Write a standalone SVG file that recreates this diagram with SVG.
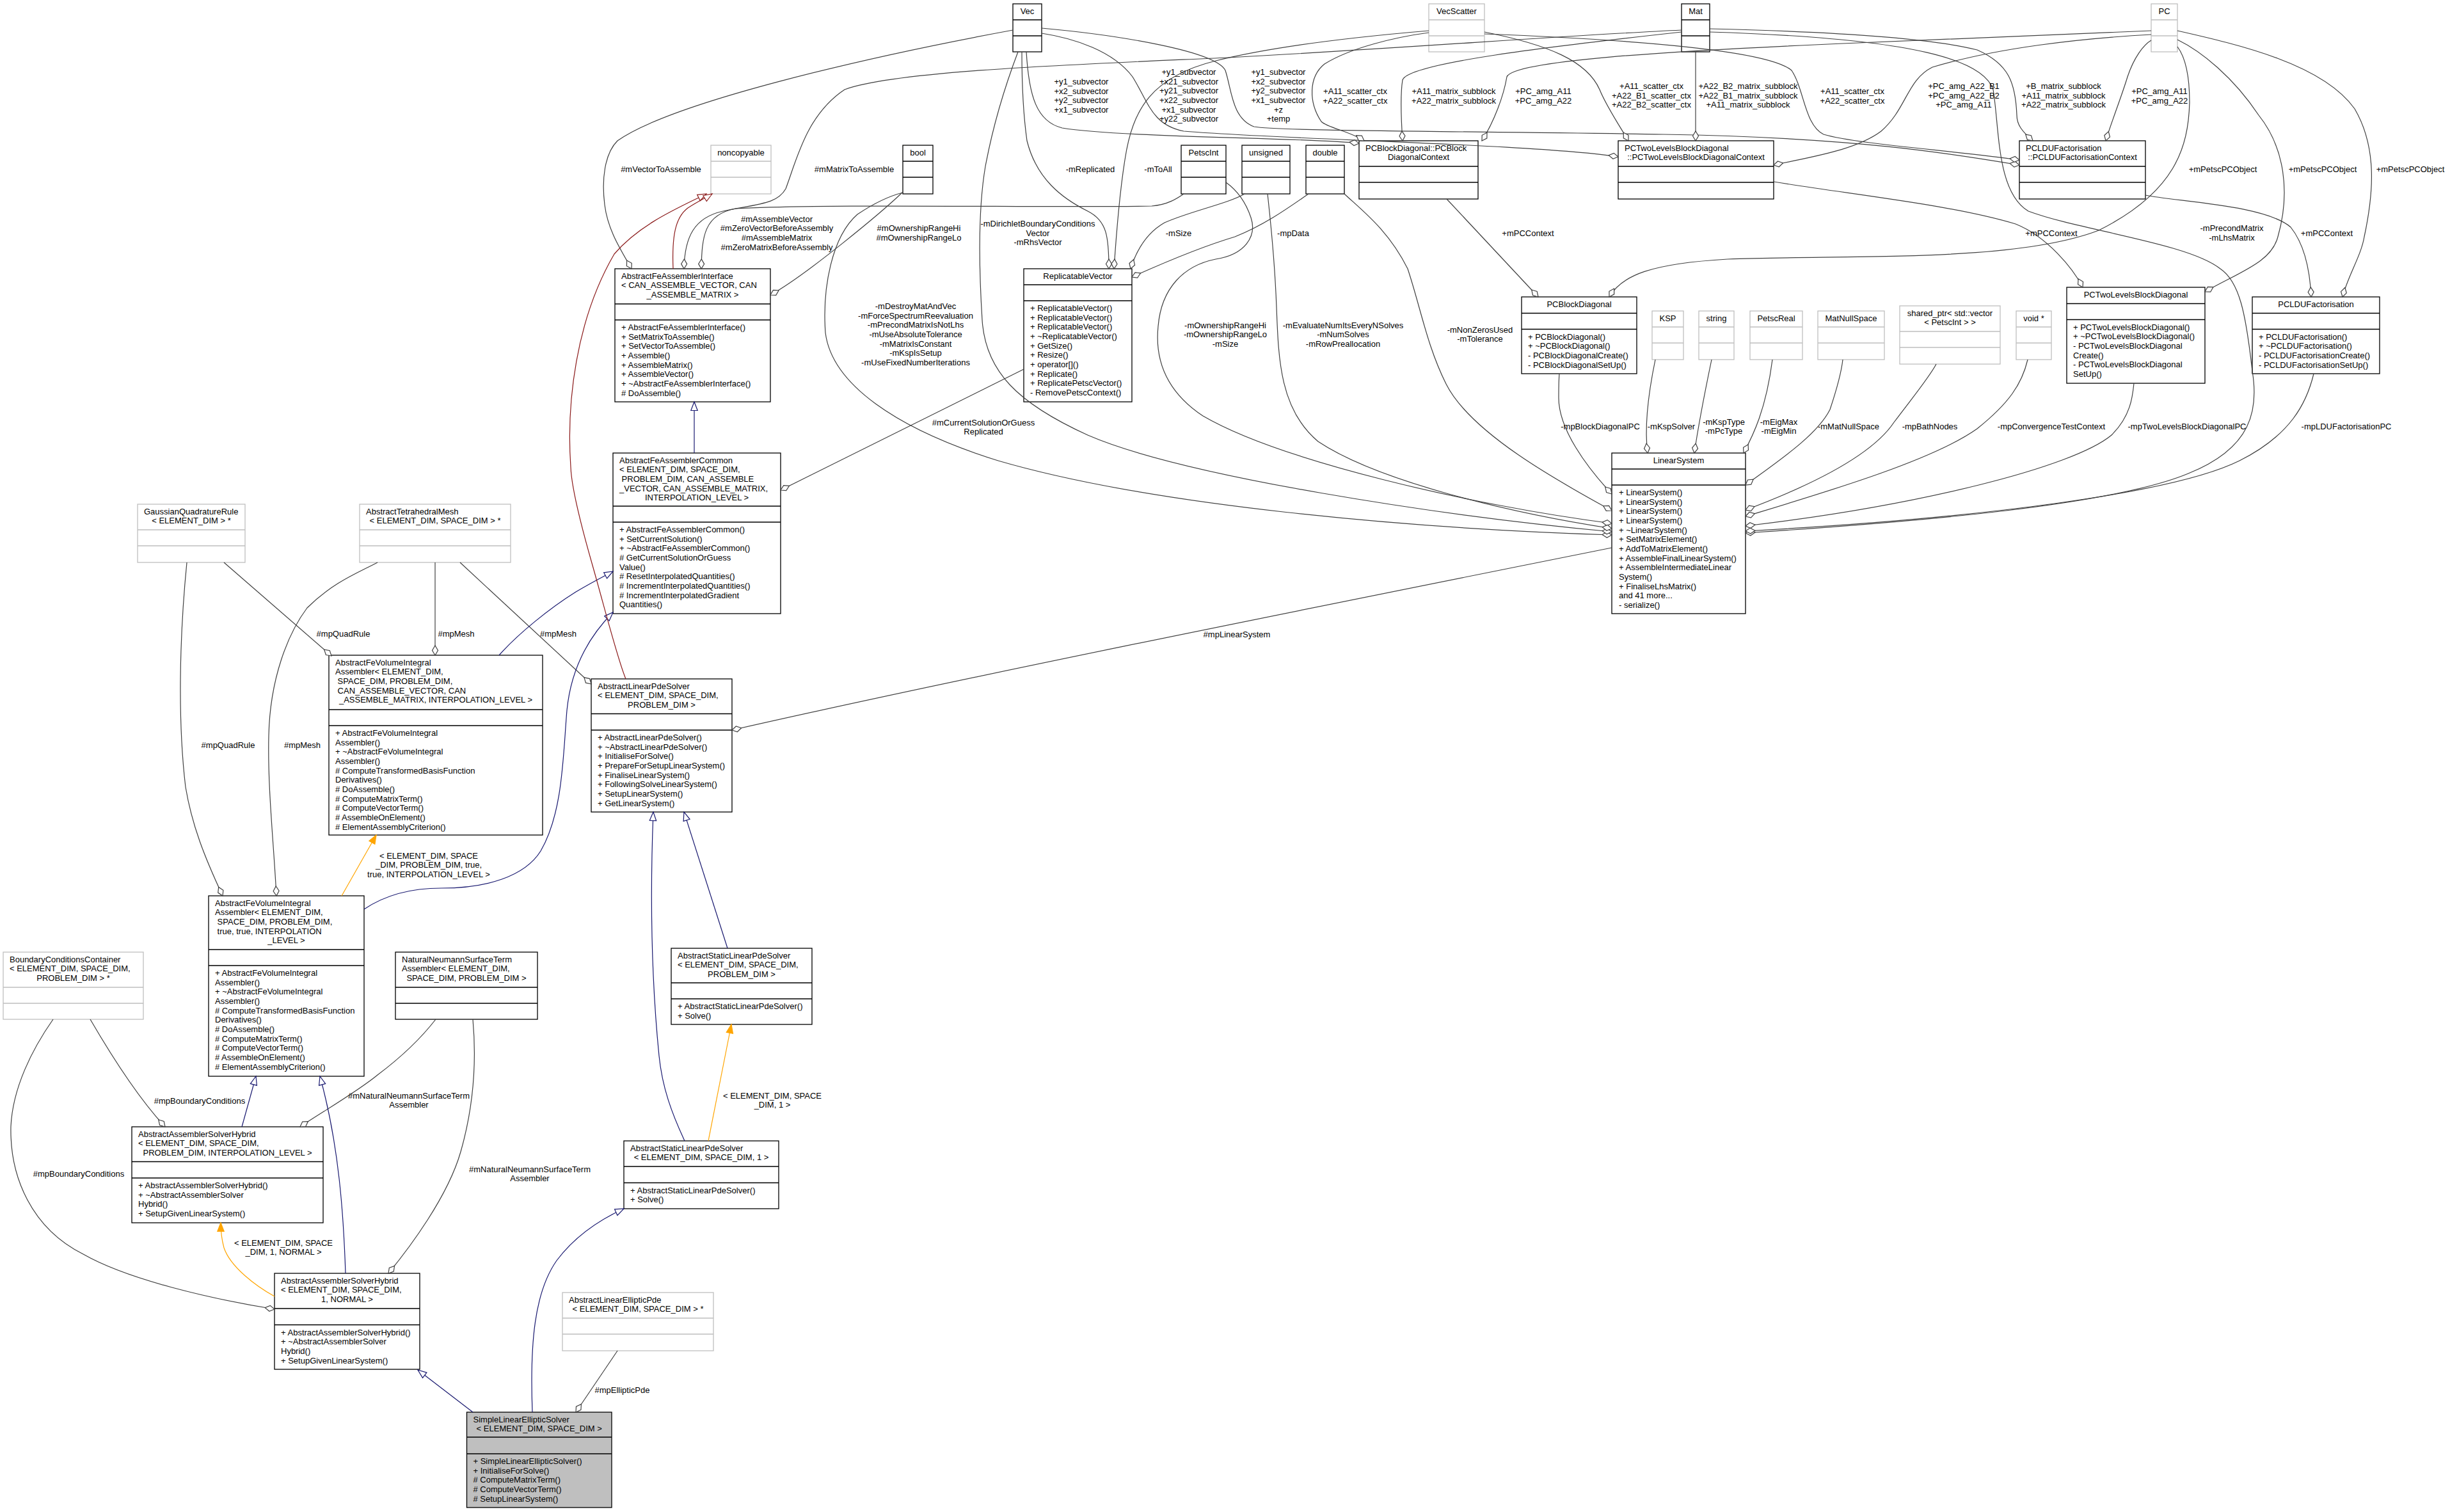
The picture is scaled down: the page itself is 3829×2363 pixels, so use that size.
<svg xmlns="http://www.w3.org/2000/svg" width="3829" height="2363" viewBox="0 0 3829 2363">
<style>
text{font-family:"Liberation Sans",Arial,Helvetica,sans-serif;font-size:13px;fill:#000}
.c{text-anchor:middle}
.b{fill:#fff;stroke:#000;stroke-width:1.3}
.g{fill:#fff;stroke:#bfbfbf;stroke-width:1.3}
.s{fill:#bfbfbf;stroke:#000;stroke-width:1.3}
.lb{fill:none;stroke:#000;stroke-width:1.3}
.lg{fill:none;stroke:#bfbfbf;stroke-width:1.3}
.e{fill:none;stroke:#404040;stroke-width:1.2;marker-start:url(#dia)}
.i{fill:none;stroke:#191970;stroke-width:1.2;marker-end:url(#inh)}
.r{fill:none;stroke:#8b1a1a;stroke-width:1.2;marker-end:url(#inhr)}
.o{fill:none;stroke:#ffa500;stroke-width:1.2;marker-end:url(#tpl)}
</style>
<defs>
<marker id="dia" viewBox="-2 -6 20 12" refX="0" refY="0" markerWidth="20" markerHeight="12" orient="auto" markerUnits="userSpaceOnUse"><path d="M0,0 L7.5,-4.5 L15,0 L7.5,4.5 Z" fill="#fff" stroke="#404040" stroke-width="1.2"/></marker>
<marker id="inh" viewBox="-2 -7 18 14" refX="13.5" refY="0" markerWidth="18" markerHeight="14" orient="auto" markerUnits="userSpaceOnUse"><path d="M0,-5.2 L13.5,0 L0,5.2 Z" fill="#fff" stroke="#191970" stroke-width="1.2"/></marker>
<marker id="inhr" viewBox="-2 -7 18 14" refX="13.5" refY="0" markerWidth="18" markerHeight="14" orient="auto" markerUnits="userSpaceOnUse"><path d="M0,-5.2 L13.5,0 L0,5.2 Z" fill="#fff" stroke="#8b1a1a" stroke-width="1.2"/></marker>
<marker id="tpl" viewBox="-2 -7 18 14" refX="13.5" refY="0" markerWidth="18" markerHeight="14" orient="auto" markerUnits="userSpaceOnUse"><path d="M0,-5.2 L13.5,0 L0,5.2 Z" fill="#ffa500" stroke="#ffa500" stroke-width="1.2"/></marker>
</defs>
<rect x="0" y="0" width="3829" height="2363" fill="#fff"/>

<g id="nodes">
<g id="n-Vec"><rect class="b" x="1583" y="6" width="45" height="75"/><path class="lb" d="M1583 31H1628M1583 56H1628"/><text class="c" x="1605.5" y="22">Vec</text></g>
<g id="n-VecScatter"><rect class="g" x="2233" y="6" width="87" height="75"/><path class="lg" d="M2233 31H2320M2233 56H2320"/><text class="c" x="2276.5" y="22">VecScatter</text></g>
<g id="n-Mat"><rect class="b" x="2628" y="6" width="44" height="75"/><path class="lb" d="M2628 31H2672M2628 56H2672"/><text class="c" x="2650" y="22">Mat</text></g>
<g id="n-PC"><rect class="g" x="3362" y="6" width="41" height="75"/><path class="lg" d="M3362 31H3403M3362 56H3403"/><text class="c" x="3382.5" y="22">PC</text></g>
<g id="n-noncopyable"><rect class="g" x="1111" y="227" width="94" height="76"/><path class="lg" d="M1111 252H1205M1111 277H1205"/><text class="c" x="1158" y="243">noncopyable</text></g>
<g id="n-bool"><rect class="b" x="1411" y="227" width="47" height="76"/><path class="lb" d="M1411 252H1458M1411 277H1458"/><text class="c" x="1434.5" y="243">bool</text></g>
<g id="n-PetscInt"><rect class="b" x="1846" y="227" width="70" height="76"/><path class="lb" d="M1846 252H1916M1846 277H1916"/><text class="c" x="1881" y="243">PetscInt</text></g>
<g id="n-unsigned"><rect class="b" x="1941" y="227" width="75" height="76"/><path class="lb" d="M1941 252H2016M1941 277H2016"/><text class="c" x="1978.5" y="243">unsigned</text></g>
<g id="n-double"><rect class="b" x="2041" y="227" width="60" height="76"/><path class="lb" d="M2041 252H2101M2041 277H2101"/><text class="c" x="2071" y="243">double</text></g>
<g id="n-PCBDContext"><rect class="b" x="2124" y="220" width="186" height="91"/><path class="lb" d="M2124 260H2310M2124 285H2310"/><text x="2134" y="235.5">PCBlockDiagonal::PCBlock</text><text class="c" x="2217" y="250">DiagonalContext</text></g>
<g id="n-PCTLContext"><rect class="b" x="2529" y="220" width="243" height="91"/><path class="lb" d="M2529 260H2772M2529 285H2772"/><text x="2539" y="235.5">PCTwoLevelsBlockDiagonal</text><text class="c" x="2650.5" y="250">::PCTwoLevelsBlockDiagonalContext</text></g>
<g id="n-PCLDUContext"><rect class="b" x="3156" y="220" width="197" height="91"/><path class="lb" d="M3156 260H3353M3156 285H3353"/><text x="3166" y="235.5">PCLDUFactorisation</text><text class="c" x="3254.5" y="250">::PCLDUFactorisationContext</text></g>

<g id="n-AFAI"><rect class="b" x="961" y="420" width="243" height="208"/><path class="lb" d="M961 475H1204M961 500H1204"/>
<text x="971" y="435.5">AbstractFeAssemblerInterface<tspan x="971" dy="14.67">&lt; CAN_ASSEMBLE_VECTOR, CAN</tspan></text><text class="c" x="1082.5" y="465">_ASSEMBLE_MATRIX &gt;</text>
<text x="971" y="516">+ AbstractFeAssemblerInterface()<tspan x="971" dy="14.67">+ SetMatrixToAssemble()</tspan><tspan x="971" dy="14.67">+ SetVectorToAssemble()</tspan><tspan x="971" dy="14.67">+ Assemble()</tspan><tspan x="971" dy="14.67">+ AssembleMatrix()</tspan><tspan x="971" dy="14.67">+ AssembleVector()</tspan><tspan x="971" dy="14.67">+ ~AbstractFeAssemblerInterface()</tspan><tspan x="971" dy="14.67"># DoAssemble()</tspan></text></g>

<g id="n-RV"><rect class="b" x="1600" y="420" width="169" height="208"/><path class="lb" d="M1600 445H1769M1600 470H1769"/><text class="c" x="1684.5" y="435.5">ReplicatableVector</text>
<text x="1610" y="486">+ ReplicatableVector()<tspan x="1610" dy="14.67">+ ReplicatableVector()</tspan><tspan x="1610" dy="14.67">+ ReplicatableVector()</tspan><tspan x="1610" dy="14.67">+ ~ReplicatableVector()</tspan><tspan x="1610" dy="14.67">+ GetSize()</tspan><tspan x="1610" dy="14.67">+ Resize()</tspan><tspan x="1610" dy="14.67">+ operator[]()</tspan><tspan x="1610" dy="14.67">+ Replicate()</tspan><tspan x="1610" dy="14.67">+ ReplicatePetscVector()</tspan><tspan x="1610" dy="14.67">- RemovePetscContext()</tspan></text></g>

<g id="n-PCBlockDiagonal"><rect class="b" x="2378" y="464" width="180" height="120"/><path class="lb" d="M2378 489.5H2558M2378 514.5H2558"/><text class="c" x="2468" y="479.5">PCBlockDiagonal</text>
<text x="2388" y="530.5">+ PCBlockDiagonal()<tspan x="2388" dy="14.67">+ ~PCBlockDiagonal()</tspan><tspan x="2388" dy="14.67">- PCBlockDiagonalCreate()</tspan><tspan x="2388" dy="14.67">- PCBlockDiagonalSetUp()</tspan></text></g>

<g id="n-KSP"><rect class="g" x="2582" y="486" width="49" height="76"/><path class="lg" d="M2582 511H2631M2582 536H2631"/><text class="c" x="2606.5" y="502">KSP</text></g>
<g id="n-string"><rect class="g" x="2655" y="486" width="55" height="76"/><path class="lg" d="M2655 511H2710M2655 536H2710"/><text class="c" x="2682.5" y="502">string</text></g>
<g id="n-PetscReal"><rect class="g" x="2735" y="486" width="82" height="76"/><path class="lg" d="M2735 511H2817M2735 536H2817"/><text class="c" x="2776" y="502">PetscReal</text></g>
<g id="n-MatNullSpace"><rect class="g" x="2841" y="486" width="104" height="76"/><path class="lg" d="M2841 511H2945M2841 536H2945"/><text class="c" x="2893" y="502">MatNullSpace</text></g>
<g id="n-sharedptr"><rect class="g" x="2969" y="478" width="157" height="91"/><path class="lg" d="M2969 518H3126M2969 543H3126"/><text class="c" x="3047.5" y="493.5">shared_ptr&lt; std::vector</text><text class="c" x="3047.5" y="508">&lt; PetscInt &gt; &gt;</text></g>
<g id="n-void"><rect class="g" x="3151" y="486" width="55" height="76"/><path class="lg" d="M3151 511H3206M3151 536H3206"/><text class="c" x="3178.5" y="502">void *</text></g>

<g id="n-PCTLBD"><rect class="b" x="3230" y="449" width="216" height="150"/><path class="lb" d="M3230 474.5H3446M3230 499.5H3446"/><text class="c" x="3338" y="464.5">PCTwoLevelsBlockDiagonal</text>
<text x="3240" y="515.5">+ PCTwoLevelsBlockDiagonal()<tspan x="3240" dy="14.67">+ ~PCTwoLevelsBlockDiagonal()</tspan><tspan x="3240" dy="14.67">- PCTwoLevelsBlockDiagonal</tspan><tspan x="3240" dy="14.67">Create()</tspan><tspan x="3240" dy="14.67">- PCTwoLevelsBlockDiagonal</tspan><tspan x="3240" dy="14.67">SetUp()</tspan></text></g>

<g id="n-PCLDU"><rect class="b" x="3520" y="464" width="199" height="120"/><path class="lb" d="M3520 489.5H3719M3520 514.5H3719"/><text class="c" x="3619.5" y="479.5">PCLDUFactorisation</text>
<text x="3530" y="530.5">+ PCLDUFactorisation()<tspan x="3530" dy="14.67">+ ~PCLDUFactorisation()</tspan><tspan x="3530" dy="14.67">- PCLDUFactorisationCreate()</tspan><tspan x="3530" dy="14.67">- PCLDUFactorisationSetUp()</tspan></text></g>

<g id="n-LinearSystem"><rect class="b" x="2519" y="708" width="209" height="251"/><path class="lb" d="M2519 733H2728M2519 758H2728"/><text class="c" x="2623.5" y="723.5">LinearSystem</text>
<text x="2530" y="774">+ LinearSystem()<tspan x="2530" dy="14.67">+ LinearSystem()</tspan><tspan x="2530" dy="14.67">+ LinearSystem()</tspan><tspan x="2530" dy="14.67">+ LinearSystem()</tspan><tspan x="2530" dy="14.67">+ ~LinearSystem()</tspan><tspan x="2530" dy="14.67">+ SetMatrixElement()</tspan><tspan x="2530" dy="14.67">+ AddToMatrixElement()</tspan><tspan x="2530" dy="14.67">+ AssembleFinalLinearSystem()</tspan><tspan x="2530" dy="14.67">+ AssembleIntermediateLinear</tspan><tspan x="2530" dy="14.67">System()</tspan><tspan x="2530" dy="14.67">+ FinaliseLhsMatrix()</tspan><tspan x="2530" dy="14.67">and 41 more...</tspan><tspan x="2530" dy="14.67">- serialize()</tspan></text></g>

<g id="n-AFACommon"><rect class="b" x="958" y="708" width="262" height="251"/><path class="lb" d="M958 791H1220M958 816H1220"/>
<text x="968" y="723.5">AbstractFeAssemblerCommon<tspan x="968" dy="14.67">&lt; ELEMENT_DIM, SPACE_DIM,</tspan><tspan x="968" dy="14.67"> PROBLEM_DIM, CAN_ASSEMBLE</tspan><tspan x="968" dy="14.67">_VECTOR, CAN_ASSEMBLE_MATRIX,</tspan></text><text class="c" x="1089" y="782">INTERPOLATION_LEVEL &gt;</text>
<text x="968" y="832">+ AbstractFeAssemblerCommon()<tspan x="968" dy="14.67">+ SetCurrentSolution()</tspan><tspan x="968" dy="14.67">+ ~AbstractFeAssemblerCommon()</tspan><tspan x="968" dy="14.67"># GetCurrentSolutionOrGuess</tspan><tspan x="968" dy="14.67">Value()</tspan><tspan x="968" dy="14.67"># ResetInterpolatedQuantities()</tspan><tspan x="968" dy="14.67"># IncrementInterpolatedQuantities()</tspan><tspan x="968" dy="14.67"># IncrementInterpolatedGradient</tspan><tspan x="968" dy="14.67">Quantities()</tspan></text></g>

<g id="n-GQR"><rect class="g" x="215" y="788" width="168" height="91"/><path class="lg" d="M215 828H383M215 853H383"/><text x="225" y="803.5">GaussianQuadratureRule</text><text class="c" x="299" y="818">&lt; ELEMENT_DIM &gt; *</text></g>
<g id="n-Mesh"><rect class="g" x="562" y="788" width="236" height="91"/><path class="lg" d="M562 828H798M562 853H798"/><text x="572" y="803.5">AbstractTetrahedralMesh</text><text class="c" x="680" y="818">&lt; ELEMENT_DIM, SPACE_DIM &gt; *</text></g>

<g id="n-AFVIA"><rect class="b" x="514" y="1024" width="334" height="281"/><path class="lb" d="M514 1109H848M514 1134H848"/>
<text x="524" y="1039.5">AbstractFeVolumeIntegral<tspan x="524" dy="14.67">Assembler&lt; ELEMENT_DIM,</tspan><tspan x="524" dy="14.67"> SPACE_DIM, PROBLEM_DIM,</tspan><tspan x="524" dy="14.67"> CAN_ASSEMBLE_VECTOR, CAN</tspan></text><text class="c" x="681" y="1098.2">_ASSEMBLE_MATRIX, INTERPOLATION_LEVEL &gt;</text>
<text x="524" y="1150">+ AbstractFeVolumeIntegral<tspan x="524" dy="14.67">Assembler()</tspan><tspan x="524" dy="14.67">+ ~AbstractFeVolumeIntegral</tspan><tspan x="524" dy="14.67">Assembler()</tspan><tspan x="524" dy="14.67"># ComputeTransformedBasisFunction</tspan><tspan x="524" dy="14.67">Derivatives()</tspan><tspan x="524" dy="14.67"># DoAssemble()</tspan><tspan x="524" dy="14.67"># ComputeMatrixTerm()</tspan><tspan x="524" dy="14.67"># ComputeVectorTerm()</tspan><tspan x="524" dy="14.67"># AssembleOnElement()</tspan><tspan x="524" dy="14.67"># ElementAssemblyCriterion()</tspan></text></g>

<g id="n-ALPS"><rect class="b" x="924" y="1061" width="220" height="208"/><path class="lb" d="M924 1115.5H1144M924 1141H1144"/>
<text x="934" y="1076.5">AbstractLinearPdeSolver<tspan x="934" dy="14.67">&lt; ELEMENT_DIM, SPACE_DIM,</tspan></text><text class="c" x="1034" y="1106">PROBLEM_DIM &gt;</text>
<text x="934" y="1157">+ AbstractLinearPdeSolver()<tspan x="934" dy="14.67">+ ~AbstractLinearPdeSolver()</tspan><tspan x="934" dy="14.67">+ InitialiseForSolve()</tspan><tspan x="934" dy="14.67">+ PrepareForSetupLinearSystem()</tspan><tspan x="934" dy="14.67">+ FinaliseLinearSystem()</tspan><tspan x="934" dy="14.67">+ FollowingSolveLinearSystem()</tspan><tspan x="934" dy="14.67">+ SetupLinearSystem()</tspan><tspan x="934" dy="14.67">+ GetLinearSystem()</tspan></text></g>

<g id="n-AFVIAtt"><rect class="b" x="326" y="1400" width="243" height="282"/><path class="lb" d="M326 1484H569M326 1509H569"/>
<text x="336" y="1415.5">AbstractFeVolumeIntegral<tspan x="336" dy="14.67">Assembler&lt; ELEMENT_DIM,</tspan><tspan x="336" dy="14.67"> SPACE_DIM, PROBLEM_DIM,</tspan><tspan x="336" dy="14.67"> true, true, INTERPOLATION</tspan></text><text class="c" x="447.5" y="1474.2">_LEVEL &gt;</text>
<text x="336" y="1525">+ AbstractFeVolumeIntegral<tspan x="336" dy="14.67">Assembler()</tspan><tspan x="336" dy="14.67">+ ~AbstractFeVolumeIntegral</tspan><tspan x="336" dy="14.67">Assembler()</tspan><tspan x="336" dy="14.67"># ComputeTransformedBasisFunction</tspan><tspan x="336" dy="14.67">Derivatives()</tspan><tspan x="336" dy="14.67"># DoAssemble()</tspan><tspan x="336" dy="14.67"># ComputeMatrixTerm()</tspan><tspan x="336" dy="14.67"># ComputeVectorTerm()</tspan><tspan x="336" dy="14.67"># AssembleOnElement()</tspan><tspan x="336" dy="14.67"># ElementAssemblyCriterion()</tspan></text></g>

<g id="n-ASLPSP"><rect class="b" x="1049" y="1482" width="220" height="119"/><path class="lb" d="M1049 1536H1269M1049 1561H1269"/>
<text x="1059" y="1497.5">AbstractStaticLinearPdeSolver<tspan x="1059" dy="14.67">&lt; ELEMENT_DIM, SPACE_DIM,</tspan></text><text class="c" x="1159" y="1527">PROBLEM_DIM &gt;</text>
<text x="1059" y="1577">+ AbstractStaticLinearPdeSolver()<tspan x="1059" dy="14.67">+ Solve()</tspan></text></g>

<g id="n-BCC"><rect class="g" x="5" y="1488" width="219" height="105"/><path class="lg" d="M5 1543H224M5 1568H224"/>
<text x="15" y="1503.5">BoundaryConditionsContainer<tspan x="15" dy="14.67">&lt; ELEMENT_DIM, SPACE_DIM,</tspan></text><text class="c" x="114.5" y="1533">PROBLEM_DIM &gt; *</text></g>

<g id="n-NN"><rect class="b" x="618" y="1488" width="222" height="105"/><path class="lb" d="M618 1543H840M618 1568H840"/>
<text x="628" y="1503.5">NaturalNeumannSurfaceTerm<tspan x="628" dy="14.67">Assembler&lt; ELEMENT_DIM,</tspan></text><text class="c" x="729" y="1533"> SPACE_DIM, PROBLEM_DIM &gt;</text></g>

<g id="n-HybridI"><rect class="b" x="206" y="1761" width="299" height="150"/><path class="lb" d="M206 1815.5H505M206 1841H505"/>
<text x="216" y="1776.5">AbstractAssemblerSolverHybrid<tspan x="216" dy="14.67">&lt; ELEMENT_DIM, SPACE_DIM,</tspan></text><text class="c" x="355.5" y="1806"> PROBLEM_DIM, INTERPOLATION_LEVEL &gt;</text>
<text x="216" y="1857">+ AbstractAssemblerSolverHybrid()<tspan x="216" dy="14.67">+ ~AbstractAssemblerSolver</tspan><tspan x="216" dy="14.67">Hybrid()</tspan><tspan x="216" dy="14.67">+ SetupGivenLinearSystem()</tspan></text></g>

<g id="n-ASLPS1"><rect class="b" x="975" y="1783" width="242" height="106"/><path class="lb" d="M975 1823H1217M975 1848.5H1217"/>
<text x="985" y="1798.5">AbstractStaticLinearPdeSolver</text><text class="c" x="1096" y="1813">&lt; ELEMENT_DIM, SPACE_DIM, 1 &gt;</text>
<text x="985" y="1864.5">+ AbstractStaticLinearPdeSolver()<tspan x="985" dy="14.67">+ Solve()</tspan></text></g>

<g id="n-Hybrid1"><rect class="b" x="429" y="1990" width="227" height="150"/><path class="lb" d="M429 2045H656M429 2070.5H656"/>
<text x="439" y="2005.5">AbstractAssemblerSolverHybrid<tspan x="439" dy="14.67">&lt; ELEMENT_DIM, SPACE_DIM,</tspan></text><text class="c" x="542.5" y="2035">1, NORMAL &gt;</text>
<text x="439" y="2086.5">+ AbstractAssemblerSolverHybrid()<tspan x="439" dy="14.67">+ ~AbstractAssemblerSolver</tspan><tspan x="439" dy="14.67">Hybrid()</tspan><tspan x="439" dy="14.67">+ SetupGivenLinearSystem()</tspan></text></g>

<g id="n-ALEP"><rect class="g" x="879" y="2020" width="236" height="91"/><path class="lg" d="M879 2060H1115M879 2085H1115"/>
<text x="889" y="2035.5">AbstractLinearEllipticPde</text><text class="c" x="997" y="2050">&lt; ELEMENT_DIM, SPACE_DIM &gt; *</text></g>

<g id="n-SLES"><rect class="s" x="729.5" y="2207" width="226.5" height="149"/><path class="lb" d="M729.5 2246H956M729.5 2272H956"/>
<text x="739.5" y="2222.5">SimpleLinearEllipticSolver</text><text class="c" x="842.75" y="2237">&lt; ELEMENT_DIM, SPACE_DIM &gt;</text>
<text x="739.5" y="2288">+ SimpleLinearEllipticSolver()<tspan x="739.5" dy="14.67">+ InitialiseForSolve()</tspan><tspan x="739.5" dy="14.67"># ComputeMatrixTerm()</tspan><tspan x="739.5" dy="14.67"># ComputeVectorTerm()</tspan><tspan x="739.5" dy="14.67"># SetupLinearSystem()</tspan></text></g>
</g>

<g id="edges">
<!-- aggregation -->
<path class="e" d="M987 420 C970 390,950 360,945 320 C940 280,945 240,965 220 C1050 160,1350 90,1583 47"/>
<path class="e" d="M1069 420 C1070 370,1085 340,1130 330 C1190 318,1215 318,1228 295 C1245 250,1260 180,1320 140 C1400 110,1700 100,1920 90 C2200 75,2450 55,2628 47"/>
<path class="e" d="M1096 420 C1097 370,1100 335,1150 326 C1300 318,1650 325,1800 322 C1825 320,1840 310,1850 303"/>
<path class="e" d="M1204 461 C1260 430,1380 330,1411 300"/>
<path class="e" d="M2519 836 C2200 826,1800 790,1560 720 C1400 670,1300 600,1290 520 C1285 450,1300 370,1340 335 C1370 315,1395 305,1411 301"/>
<path class="e" d="M2519 831 C2250 806,1850 745,1700 680 C1590 630,1540 580,1535 500 C1530 420,1528 330,1540 260 C1555 180,1580 110,1591 81"/>
<path class="e" d="M1733 420 C1733 370,1730 345,1700 330 C1660 310,1620 280,1605 220 C1598 170,1597 120,1597 81"/>
<path class="e" d="M2124 224 C2050 215,1750 215,1660 200 C1620 190,1608 150,1604 81"/>
<path class="e" d="M2529 245 C2400 225,2000 218,1850 205 C1800 195,1795 160,1770 120 C1740 80,1680 60,1628 52"/>
<path class="e" d="M3156 258 C3050 240,2900 215,2600 210 C2300 205,2000 205,1960 198 C1925 185,1925 140,1915 110 C1900 80,1750 55,1628 44"/>
<path class="e" d="M1741 420 C1745 360,1750 300,1758 250 C1770 170,1800 120,1900 95 C2000 70,2150 55,2233 48"/>
<path class="e" d="M2132 220 C2110 205,2075 200,2065 190 C2045 160,2045 120,2070 100 C2110 75,2180 58,2233 51"/>
<path class="e" d="M2192 220 C2190 190,2188 150,2192 125 C2200 100,2400 75,2628 50"/>
<path class="e" d="M2316 220 C2335 190,2350 150,2355 120 C2365 95,2600 80,2880 68 C3100 60,3250 52,3362 48"/>
<path class="e" d="M2545 220 C2530 195,2510 165,2500 140 C2480 95,2420 70,2320 50"/>
<path class="e" d="M2650 220 L2650 81"/>
<path class="e" d="M2772 258 C2830 245,2900 235,2940 205 C2980 170,2980 125,3020 105 C3120 75,3250 60,3362 54"/>
<path class="e" d="M3156 250 C3050 235,2900 225,2850 210 C2820 195,2820 140,2800 110 C2760 75,2500 60,2320 53"/>
<path class="e" d="M3177 220 C3160 205,3152 195,3152 180 C3150 130,3140 100,3090 78 C3000 55,2800 48,2672 45"/>
<path class="e" d="M3291 220 C3300 190,3316 150,3325 120 C3335 90,3350 70,3362 63"/>
<path class="e" d="M2728 833 C3000 815,3300 790,3420 740 C3520 700,3530 640,3520 580 C3510 490,3500 440,3470 420 C3420 380,3250 360,3170 330 C3120 300,3125 200,3115 140 C3100 95,3000 60,2672 50"/>
<path class="e" d="M2515 464 C2535 430,2580 412,2700 405 C2900 398,3150 410,3280 360 C3400 300,3420 230,3422 160 C3422 110,3412 85,3403 73"/>
<path class="e" d="M3446 456 C3500 425,3550 410,3560 370 C3580 300,3570 230,3530 180 C3490 120,3440 80,3403 62"/>
<path class="e" d="M3661 464 C3670 430,3690 400,3695 370 C3710 300,3715 230,3680 170 C3630 100,3500 70,3403 48"/>
<path class="e" d="M3612 464 C3610 420,3600 380,3580 355 C3540 320,3400 315,3353 305"/>
<path class="e" d="M2404 464 L2261 311"/>
<path class="e" d="M3255 449 C3240 420,3200 370,3150 350 C3050 320,2900 305,2772 284"/>
<path class="e" d="M1767 420 C1775 395,1790 365,1820 348 C1860 330,1920 318,1945 303"/>
<path class="e" d="M1769 433 C1820 410,1880 385,1930 370 C1980 350,2020 320,2045 303"/>
<path class="e" d="M2519 818 C2300 790,2000 720,1880 650 C1820 610,1805 560,1810 510 C1815 450,1850 415,1900 405 C1945 398,1965 370,1955 340 C1945 310,1930 295,1916 285"/>
<path class="e" d="M2519 826 C2350 800,2150 750,2060 690 C2000 640,1998 560,1995 480 C1992 400,1985 340,1981 303"/>
<path class="e" d="M2519 798 C2450 760,2300 680,2260 600 C2230 540,2220 480,2200 420 C2170 360,2130 330,2101 303"/>
<path class="e" d="M2519 772 C2480 730,2435 670,2436 620 C2436 605,2436 595,2437 584"/>
<path class="e" d="M2575 708 C2570 670,2575 620,2587 562"/>
<path class="e" d="M2648 708 C2655 660,2665 610,2675 562"/>
<path class="e" d="M2725 708 C2740 680,2760 640,2770 562"/>
<path class="e" d="M2728 758 C2780 720,2840 680,2860 640 C2870 610,2878 580,2880 562"/>
<path class="e" d="M2728 797 C2800 770,2920 720,2960 660 C2990 620,3015 590,3026 569"/>
<path class="e" d="M2728 807 C2850 770,3020 720,3090 670 C3140 630,3160 600,3169 562"/>
<path class="e" d="M2728 822 C3000 790,3240 730,3300 680 C3330 650,3333 620,3335 599"/>
<path class="e" d="M2728 830 C3100 810,3400 770,3500 720 C3580 680,3605 630,3616 584"/>
<path class="e" d="M1220 766 L1600 577"/>
<path class="e" d="M1144 1141 C1500 1060,2000 960,2519 856"/>
<path class="e" d="M518 1025 L350 879"/>
<path class="e" d="M348 1400 C320 1340,300 1290,290 1230 C278 1130,280 1000,292 879"/>
<path class="e" d="M680 1024 L680 879"/>
<path class="e" d="M432 1400 C428 1320,418 1230,420 1150 C422 1060,450 990,480 950 C520 910,560 895,590 879"/>
<path class="e" d="M924 1069 L719 879"/>
<path class="e" d="M258 1761 C220 1720,180 1660,141 1593"/>
<path class="e" d="M429 2046 C330 2030,200 2000,130 1960 C50 1920,15 1840,17 1760 C20 1700,50 1640,83 1593"/>
<path class="e" d="M469 1761 C500 1740,560 1705,590 1680 C630 1650,660 1620,681 1593"/>
<path class="e" d="M607 1990 C640 1950,700 1870,720 1800 C740 1730,745 1660,739 1593"/>
<path class="e" d="M900 2207 L965 2111"/>
<!-- inheritance -->
<path class="i" d="M1085 708 L1085 628"/>
<path class="i" d="M780 1024 C810 990,860 950,900 925 C925 910,945 900,958 893"/>
<path class="i" d="M569 1421 C600 1400,640 1388,690 1388 C760 1388,820 1370,845 1330 C880 1270,880 1180,886 1110 C892 1050,915 1000,958 957"/>
<path class="r" d="M978 1061 C965 1030,945 950,925 880 C905 810,893 760,892 730 C885 630,900 500,960 397 C1000 350,1060 325,1104 303"/>
<path class="r" d="M1052 420 C1050 370,1055 340,1075 325 C1090 315,1105 308,1113 303"/>
<path class="i" d="M1137 1482 L1069 1269"/>
<path class="i" d="M1070 1783 C1050 1740,1035 1700,1030 1650 C1020 1550,1015 1420,1021 1269"/>
<path class="i" d="M832 2207 C828 2100,835 2020,870 1970 C900 1930,940 1905,975 1889"/>
<path class="i" d="M739 2207 L653 2141"/>
<path class="i" d="M540 1990 C537 1900,530 1790,500 1682"/>
<path class="i" d="M378 1761 L400 1682"/>
<!-- template -->
<path class="o" d="M534 1400 L588 1305"/>
<path class="o" d="M429 2026 C400 2010,360 1980,350 1950 C346 1935,345 1925,345 1911"/>
<path class="o" d="M1107 1783 L1143 1601"/>
</g>

<g id="edge-labels">
<text class="c" x="1033" y="268.5">#mVectorToAssemble</text>
<text class="c" x="1335" y="268.5">#mMatrixToAssemble</text>
<text class="c" x="1214" y="346.5">#mAssembleVector<tspan x="1214" dy="14.67">#mZeroVectorBeforeAssembly</tspan><tspan x="1214" dy="14.67">#mAssembleMatrix</tspan><tspan x="1214" dy="14.67">#mZeroMatrixBeforeAssembly</tspan></text>
<text class="c" x="1436" y="361">#mOwnershipRangeHi<tspan x="1436" dy="14.67">#mOwnershipRangeLo</tspan></text>
<text class="c" x="1431" y="483">-mDestroyMatAndVec<tspan x="1431" dy="14.67">-mForceSpectrumReevaluation</tspan><tspan x="1431" dy="14.67">-mPrecondMatrixIsNotLhs</tspan><tspan x="1431" dy="14.67">-mUseAbsoluteTolerance</tspan><tspan x="1431" dy="14.67">-mMatrixIsConstant</tspan><tspan x="1431" dy="14.67">-mKspIsSetup</tspan><tspan x="1431" dy="14.67">-mUseFixedNumberIterations</tspan></text>
<text class="c" x="1622" y="354">-mDirichletBoundaryConditions<tspan x="1622" dy="14.67">Vector</tspan><tspan x="1622" dy="14.67">-mRhsVector</tspan></text>
<text class="c" x="1704" y="268.5">-mReplicated</text>
<text class="c" x="1810" y="268.5">-mToAll</text>
<text class="c" x="1690" y="132">+y1_subvector<tspan x="1690" dy="14.67">+x2_subvector</tspan><tspan x="1690" dy="14.67">+y2_subvector</tspan><tspan x="1690" dy="14.67">+x1_subvector</tspan></text>
<text class="c" x="1858" y="117">+y1_subvector<tspan x="1858" dy="14.67">+x21_subvector</tspan><tspan x="1858" dy="14.67">+y21_subvector</tspan><tspan x="1858" dy="14.67">+x22_subvector</tspan><tspan x="1858" dy="14.67">+x1_subvector</tspan><tspan x="1858" dy="14.67">+y22_subvector</tspan></text>
<text class="c" x="1998" y="117">+y1_subvector<tspan x="1998" dy="14.67">+x2_subvector</tspan><tspan x="1998" dy="14.67">+y2_subvector</tspan><tspan x="1998" dy="14.67">+x1_subvector</tspan><tspan x="1998" dy="14.67">+z</tspan><tspan x="1998" dy="14.67">+temp</tspan></text>
<text class="c" x="2118" y="147">+A11_scatter_ctx<tspan x="2118" dy="14.67">+A22_scatter_ctx</tspan></text>
<text class="c" x="2272" y="147">+A11_matrix_subblock<tspan x="2272" dy="14.67">+A22_matrix_subblock</tspan></text>
<text class="c" x="2412" y="147">+PC_amg_A11<tspan x="2412" dy="14.67">+PC_amg_A22</tspan></text>
<text class="c" x="2581" y="139">+A11_scatter_ctx<tspan x="2581" dy="14.67">+A22_B1_scatter_ctx</tspan><tspan x="2581" dy="14.67">+A22_B2_scatter_ctx</tspan></text>
<text class="c" x="2732" y="139">+A22_B2_matrix_subblock<tspan x="2732" dy="14.67">+A22_B1_matrix_subblock</tspan><tspan x="2732" dy="14.67">+A11_matrix_subblock</tspan></text>
<text class="c" x="2895" y="147">+A11_scatter_ctx<tspan x="2895" dy="14.67">+A22_scatter_ctx</tspan></text>
<text class="c" x="3069" y="139">+PC_amg_A22_B1<tspan x="3069" dy="14.67">+PC_amg_A22_B2</tspan><tspan x="3069" dy="14.67">+PC_amg_A11</tspan></text>
<text class="c" x="3225" y="139">+B_matrix_subblock<tspan x="3225" dy="14.67">+A11_matrix_subblock</tspan><tspan x="3225" dy="14.67">+A22_matrix_subblock</tspan></text>
<text class="c" x="3375" y="147">+PC_amg_A11<tspan x="3375" dy="14.67">+PC_amg_A22</tspan></text>
<text class="c" x="3474" y="268.5">+mPetscPCObject</text>
<text class="c" x="3630" y="268.5">+mPetscPCObject</text>
<text class="c" x="3767" y="268.5">+mPetscPCObject</text>
<text class="c" x="2388" y="369">+mPCContext</text>
<text class="c" x="3206" y="369">+mPCContext</text>
<text class="c" x="3636.5" y="369">+mPCContext</text>
<text class="c" x="3488" y="361">-mPrecondMatrix<tspan x="3488" dy="14.67">-mLhsMatrix</tspan></text>
<text class="c" x="1842" y="369">-mSize</text>
<text class="c" x="2021" y="369">-mpData</text>
<text class="c" x="1915" y="512.5">-mOwnershipRangeHi<tspan x="1915" dy="14.67">-mOwnershipRangeLo</tspan><tspan x="1915" dy="14.67">-mSize</tspan></text>
<text class="c" x="2099" y="512.5">-mEvaluateNumItsEveryNSolves<tspan x="2099" dy="14.67">-mNumSolves</tspan><tspan x="2099" dy="14.67">-mRowPreallocation</tspan></text>
<text class="c" x="2313" y="519.5">-mNonZerosUsed<tspan x="2313" dy="14.67">-mTolerance</tspan></text>
<text class="c" x="2501" y="670.5">-mpBlockDiagonalPC</text>
<text class="c" x="2612" y="670.5">-mKspSolver</text>
<text class="c" x="2694" y="663.5">-mKspType<tspan x="2694" dy="14.67">-mPcType</tspan></text>
<text class="c" x="2780" y="663.5">-mEigMax<tspan x="2780" dy="14.67">-mEigMin</tspan></text>
<text class="c" x="2889" y="670.5">-mMatNullSpace</text>
<text class="c" x="3016" y="670.5">-mpBathNodes</text>
<text class="c" x="3206" y="670.5">-mpConvergenceTestContext</text>
<text class="c" x="3418" y="670.5">-mpTwoLevelsBlockDiagonalPC</text>
<text class="c" x="3667" y="670.5">-mpLDUFactorisationPC</text>
<text class="c" x="1537" y="664.5">#mCurrentSolutionOrGuess<tspan x="1537" dy="14.67">Replicated</tspan></text>
<text class="c" x="1933" y="995.5">#mpLinearSystem</text>
<text class="c" x="536.5" y="994.5">#mpQuadRule</text>
<text class="c" x="713" y="994.5">#mpMesh</text>
<text class="c" x="872.5" y="994.5">#mpMesh</text>
<text class="c" x="356.5" y="1168.5">#mpQuadRule</text>
<text class="c" x="472.5" y="1168.5">#mpMesh</text>
<text class="c" x="670" y="1341.5">&lt; ELEMENT_DIM, SPACE<tspan x="670" dy="14.67">_DIM, PROBLEM_DIM, true,</tspan><tspan x="670" dy="14.67">true, INTERPOLATION_LEVEL &gt;</tspan></text>
<text class="c" x="312" y="1724.5">#mpBoundaryConditions</text>
<text class="c" x="123" y="1838.5">#mpBoundaryConditions</text>
<text class="c" x="639" y="1716.5">#mNaturalNeumannSurfaceTerm<tspan x="639" dy="14.67">Assembler</tspan></text>
<text class="c" x="828" y="1831.5">#mNaturalNeumannSurfaceTerm<tspan x="828" dy="14.67">Assembler</tspan></text>
<text class="c" x="443" y="1946.5">&lt; ELEMENT_DIM, SPACE<tspan x="443" dy="14.67">_DIM, 1, NORMAL &gt;</tspan></text>
<text class="c" x="1207" y="1716.5">&lt; ELEMENT_DIM, SPACE<tspan x="1207" dy="14.67">_DIM, 1 &gt;</tspan></text>
<text class="c" x="972.5" y="2177">#mpEllipticPde</text>
</g>
</svg>
